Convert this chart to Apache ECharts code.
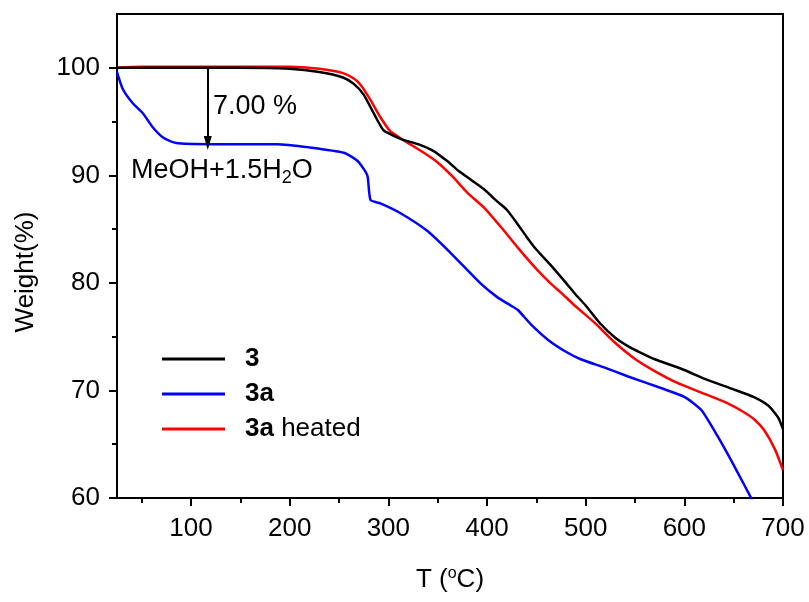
<!DOCTYPE html>
<html>
<head>
<meta charset="utf-8">
<script src="https://cdn.jsdelivr.net/npm/echarts@6/dist/echarts.min.js"></script>
<style>
  html, body { margin: 0; padding: 0; background: #fff; }
  #chart { width: 809px; height: 602px; }
</style>
</head>
<body>
<div id="chart"></div>
<script>
// TGA curves
const tempBlack = [25, 50, 100, 150, 200, 230, 254, 265, 275, 285, 295, 305, 315, 330, 345, 360, 370, 385, 397, 410, 420, 430, 440, 450, 465, 480, 490, 500, 515, 530, 545, 556, 570, 600, 620, 650, 670, 685, 695, 700];
const weightBlack = [100.0, 100.0, 100.0, 100.0, 99.9, 99.6, 99.1, 98.5, 97.5, 95.8, 94.2, 93.7, 93.3, 92.9, 92.3, 91.3, 90.5, 89.5, 88.7, 87.6, 86.8, 85.6, 84.3, 83.1, 81.6, 80.0, 78.9, 77.9, 76.2, 74.9, 74.0, 73.5, 72.9, 71.9, 71.1, 70.1, 69.4, 68.6, 67.5, 66.4];

const tempBlue = [25, 31, 41, 51, 61, 72, 85, 120, 160, 187, 220, 255, 268, 275, 279, 282, 292, 312, 340, 363, 394, 410, 424, 431, 445, 462, 480, 495, 520, 543, 577, 600, 617, 634, 651, 670];
const weightBlue = [99.6, 98.0, 96.7, 95.8, 94.5, 93.5, 93.0, 92.9, 92.9, 92.9, 92.6, 92.1, 91.4, 90.6, 89.9, 87.7, 87.4, 86.5, 84.8, 82.8, 79.9, 78.7, 77.9, 77.5, 76.1, 74.7, 73.6, 72.9, 72.1, 71.3, 70.2, 69.4, 68.2, 65.7, 62.9, 59.6];

const tempRed = [25, 50, 100, 150, 200, 230, 254, 265, 272, 282, 292, 302, 315, 336, 350, 365, 380, 397, 415, 431, 450, 465, 475, 490, 509, 529, 549, 570, 593, 620, 644, 660, 671, 681, 692, 700];
const weightRed = [100.0, 100.1, 100.1, 100.1, 100.1, 99.9, 99.5, 99.0, 98.4, 97.0, 95.4, 94.1, 93.3, 92.1, 91.2, 89.9, 88.4, 87.0, 85.1, 83.3, 81.3, 79.9, 79.1, 77.8, 76.3, 74.5, 73.0, 71.8, 70.7, 69.7, 68.8, 68.0, 67.3, 66.3, 64.5, 62.6];

const seriesNames = ['3', '3a', '3a heated'];
const xMajor = [100, 200, 300, 400, 500, 600, 700];
const xMinor = [50, 150, 250, 350, 450, 550, 650];
const yMajor = [60, 70, 80, 90, 100];
const yMinor = [65, 75, 85, 95];
// weight-loss arrow: at T=117 from 100 % down to 93 %
const arrowT = 117;
const arrowFrom = 100;
const arrowTo = 93;

const zip = (xs, ys) => xs.map((x, i) => [x, ys[i]]);

const chart = echarts.init(document.getElementById('chart'));
const font = 'Liberation Sans, Arial, sans-serif';

const baseX = {
  type: 'value', min: 25, max: 700,
  axisLine: { show: true, lineStyle: { color: '#000', width: 2 } },
  splitLine: { show: false }
};
const baseY = {
  type: 'value', min: 60, max: 105,
  axisLine: { show: true, lineStyle: { color: '#000', width: 2 } },
  splitLine: { show: false }
};

// shared line look
const curve = (name, color, xs, ys, z) => ({
  name: name, type: 'line', showSymbol: false,
  smooth: 0.2,
  color: color, lineStyle: { width: 2.5 },
  data: zip(xs, ys), z: z
});

const black = curve(seriesNames[0], '#000', tempBlack, weightBlack, 3);
black.markLine = {
  silent: true, symbol: ['none', 'triangle'], symbolSize: [8, 14],
  lineStyle: { color: '#000', width: 2, type: 'solid' },
  label: { show: false },
  data: [[{ coord: [arrowT, arrowFrom] }, { coord: [arrowT, arrowTo] }]]
};

chart.setOption({
  animation: false,
  backgroundColor: '#fff',
  grid: {
    left: 117, right: 26, top: 14, bottom: 104,
    show: true, borderColor: '#000', borderWidth: 2,
    outerBoundsMode: 'none'
  },
  xAxis: [
    Object.assign({}, baseX, {
      axisTick: { customValues: xMajor, length: 8, lineStyle: { color: '#000', width: 2 } },
      axisLabel: { customValues: xMajor, margin: 18, color: '#000', fontSize: 26, fontFamily: font }
    }),
    Object.assign({}, baseX, {
      position: 'bottom',
      axisTick: { customValues: xMinor, length: 5, lineStyle: { color: '#000', width: 2 } },
      axisLabel: { show: false }
    })
  ],
  yAxis: [
    Object.assign({}, baseY, {
      axisTick: { customValues: yMajor, length: 8, lineStyle: { color: '#000', width: 2 } },
      axisLabel: { customValues: yMajor, margin: 17, color: '#000', fontSize: 26, fontFamily: font }
    }),
    Object.assign({}, baseY, {
      position: 'left',
      axisTick: { customValues: yMinor, length: 5, lineStyle: { color: '#000', width: 2 } },
      axisLabel: { show: false }
    })
  ],
  legend: {
    orient: 'vertical',
    left: 157, top: 341,
    itemWidth: 63, itemHeight: 3, itemGap: 9,
    icon: 'rect',
    data: seriesNames,
    formatter: name => name === '3a heated' ? '{b|3a} heated' : '{b|' + name + '}',
    textStyle: {
      color: '#000', fontSize: 26, fontFamily: font, padding: [0, 0, 0, 15],
      rich: { b: { fontWeight: 'bold', fontSize: 26, fontFamily: font, color: '#000' } }
    }
  },
  series: [
    black,
    curve(seriesNames[1], '#0000ff', tempBlue, weightBlue, 2),
    curve(seriesNames[2], '#ff0000', tempRed, weightRed, 2)
  ],
  graphic: [
    {
      type: 'text', left: 213, top: 93,
      style: { text: '7.00 %', fill: '#000', font: '27px ' + font }
    },
    {
      type: 'text', left: 131, top: 157,
      style: {
        text: '{n|MeOH+1.5H}{s|2}{n|O}',
        rich: {
          n: { fontSize: 27, fontFamily: font, fill: '#000' },
          s: { fontSize: 18, fontFamily: font, fill: '#000', padding: [16, 0, 0, 0] }
        }
      }
    },
    {
      type: 'text', x: 26, y: 272, rotation: Math.PI / 2,
      style: { text: 'Weight(%)', fill: '#000', font: '26px ' + font, align: 'center', verticalAlign: 'middle' }
    },
    {
      type: 'text', x: 450, y: 580,
      style: {
        text: '{n|T (}{s|o}{n|C)}', align: 'center', verticalAlign: 'middle',
        rich: {
          n: { fontSize: 26, fontFamily: font, fill: '#000' },
          s: { fontSize: 16, fontFamily: font, fill: '#000', padding: [0, 0, 12, 0] }
        }
      }
    }
  ]
});
</script>
</body>
</html>
